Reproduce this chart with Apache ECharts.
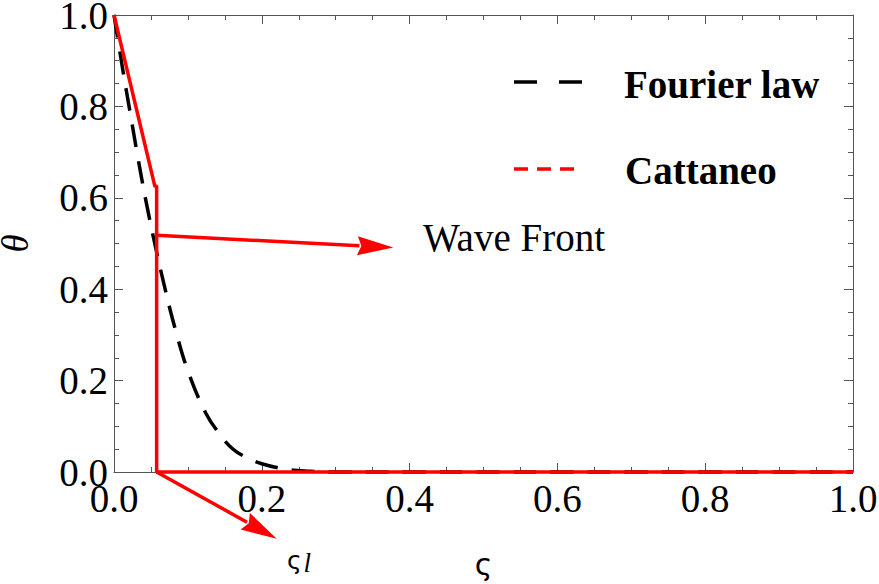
<!DOCTYPE html>
<html>
<head>
<meta charset="utf-8">
<script src="https://cdn.jsdelivr.net/npm/echarts@6/dist/echarts.min.js"></script>
<style>
  html, body { margin: 0; padding: 0; background: #fff; }
  #chart { width: 879px; height: 584px; }
</style>
</head>
<body>
<div id="chart"></div>
<script>
// ---- data ----
const fourierX = [0, 0.0115, 0.0217, 0.032, 0.043, 0.0545, 0.0683, 0.083, 0.1007, 0.1245, 0.142, 0.1604, 0.18, 0.2, 0.229, 0.26, 0.3, 0.4, 0.5, 0.6, 0.7, 0.8, 0.9, 1.0];
const fourierTheta = [1, 0.884, 0.788, 0.691, 0.595, 0.505, 0.406, 0.312, 0.218, 0.128, 0.085, 0.051, 0.031, 0.018, 0.007, 0.002, 0, 0, 0, 0, 0, 0, 0, 0];
const cattaneoX = [0, 0.0555, 0.0577, 0.0577, 1.0];
const cattaneoTheta = [1, 0.624, 0.627, 0, 0];
const xTicks = [0, 0.2, 0.4, 0.6, 0.8, 1.0];
const yTicks = [0, 0.2, 0.4, 0.6, 0.8, 1.0];
const seriesNames = ['Fourier law', 'Cattaneo'];
// annotations (data coordinates)
const waveFrontArrow = [[0.0577, 0.518], [0.378, 0.491]];
const waveFrontLabel = { text: 'Wave Front', at: [0.418, 0.513] };
const frontArrow = [[0.0577, 0], [0.2202, -0.146]];
const frontLabel = { at: [0.234, -0.193] };

const chart = echarts.init(document.getElementById('chart'), null, { renderer: 'svg' });
const serif = 'Liberation Serif, Times New Roman, serif';
const axisColor = '#555';

function pair(xs, ys) { return xs.map((x, i) => [x, ys[i]]); }

function xAxisCfg(pos, labels) {
  return {
    type: 'value', position: pos, min: xTicks[0], max: xTicks[xTicks.length - 1],
    interval: xTicks[1] - xTicks[0],
    axisLine: { show: true, onZero: false, lineStyle: { color: axisColor, width: 1 } },
    axisTick: { show: true, inside: true, length: 9, lineStyle: { color: axisColor, width: 1 } },
    minorTick: { show: true, splitNumber: 4, length: 5, lineStyle: { color: axisColor, width: 1 } },
    splitLine: { show: false }, minorSplitLine: { show: false },
    axisLabel: labels ? { show: true, margin: 7, color: '#000', fontFamily: serif, fontSize: 39,
      formatter: v => v.toFixed(1) } : { show: false }
  };
}
function yAxisCfg(pos, labels) {
  return {
    type: 'value', position: pos, min: yTicks[0], max: yTicks[yTicks.length - 1],
    interval: yTicks[1] - yTicks[0],
    axisLine: { show: true, onZero: false, lineStyle: { color: axisColor, width: 1 } },
    axisTick: { show: true, inside: true, length: 9, lineStyle: { color: axisColor, width: 1 } },
    minorTick: { show: true, splitNumber: 4, length: 5, lineStyle: { color: axisColor, width: 1 } },
    splitLine: { show: false }, minorSplitLine: { show: false },
    axisLabel: labels ? { show: true, margin: 6, color: '#000', fontFamily: serif, fontSize: 39,
      formatter: v => v.toFixed(1) } : { show: false }
  };
}

const xBottom = xAxisCfg('bottom', true);
xBottom.name = 'ς';
xBottom.nameLocation = 'middle';
xBottom.nameGap = 77;
xBottom.nameTextStyle = { fontFamily: 'DejaVu Sans', fontSize: 30, color: '#000' };
const yLeft = yAxisCfg('left', true);
yLeft.name = 'θ';
yLeft.nameLocation = 'middle';
yLeft.nameGap = 80;
yLeft.nameRotate = 90;
yLeft.nameTextStyle = { fontFamily: serif, fontStyle: 'italic', fontSize: 37, color: '#000' };

chart.setOption({
  animation: false,
  backgroundColor: '#fff',
  grid: { left: 114, right: 26, top: 15, bottom: 112, containLabel: false, outerBoundsMode: 'none' },
  xAxis: [xBottom, xAxisCfg('top', false)],
  yAxis: [yLeft, yAxisCfg('right', false)],
  series: [
    {
      name: seriesNames[0], type: 'line', xAxisIndex: 0, yAxisIndex: 0,
      data: pair(fourierX, fourierTheta), showSymbol: false, symbol: 'none',
      smooth: 0.4, clip: false,
      lineStyle: { color: '#000', width: 3.5, type: [23, 14] }, z: 2
    },
    {
      name: seriesNames[1], type: 'line', xAxisIndex: 0, yAxisIndex: 0,
      data: pair(cattaneoX, cattaneoTheta), showSymbol: false, symbol: 'none',
      clip: false,
      lineStyle: { color: '#ff0000', width: 3.5, type: 'solid' }, z: 3
    }
  ]
});

function px(p) { return chart.convertToPixel({ gridIndex: 0 }, p); }
function arrow(a, b, color) {
  const p0 = px(a), p1 = px(b);
  const dx = p1[0] - p0[0], dy = p1[1] - p0[1];
  const L = Math.hypot(dx, dy), ux = dx / L, uy = dy / L;
  const hl = 36, hw = 9.5;
  const bx = p1[0] - ux * hl, by = p1[1] - uy * hl;
  return [
    { type: 'line', shape: { x1: p0[0], y1: p0[1], x2: bx + ux * 2, y2: by + uy * 2 },
      style: { stroke: color, lineWidth: 3.5 }, z: 10 },
    { type: 'polygon', shape: { points: [[p1[0], p1[1]], [bx - uy * hw, by + ux * hw], [bx + ux * 4, by + uy * 4], [bx + uy * hw, by - ux * hw]] },
      style: { fill: color }, z: 10 }
  ];
}

const wfPos = px(waveFrontLabel.at);
const flPos = px(frontLabel.at);
const graphics = [].concat(
  arrow(waveFrontArrow[0], waveFrontArrow[1], '#ff0000'),
  arrow(frontArrow[0], frontArrow[1], '#ff0000'),
  [
    { type: 'text', x: wfPos[0], y: wfPos[1], z: 10,
      style: { text: waveFrontLabel.text, font: '39px ' + serif, fill: '#000', verticalAlign: 'middle' } },
    { type: 'text', x: flPos[0], y: flPos[1], z: 10,
      style: { text: '{s|ς}{l|l}', fill: '#000', verticalAlign: 'middle',
        rich: { s: { fontFamily: 'DejaVu Sans', fontSize: 25, fill: '#000' },
                l: { fontFamily: serif, fontStyle: 'italic', fontSize: 27, fill: '#000', padding: [6, 0, 0, 2] } } } },
    // legend
    { type: 'line', shape: { x1: 514, y1: 82, x2: 582, y2: 82 },
      style: { stroke: '#000', lineWidth: 3.5, lineDash: [23, 22] }, z: 10 },
    { type: 'text', x: 624, y: 84, z: 10,
      style: { text: seriesNames[0], font: 'bold 39px ' + serif, fill: '#000', verticalAlign: 'middle' } },
    { type: 'line', shape: { x1: 514, y1: 169, x2: 574, y2: 169 },
      style: { stroke: '#ff0000', lineWidth: 3.5, lineDash: [14, 9] }, z: 10 },
    { type: 'text', x: 625, y: 170, z: 10,
      style: { text: seriesNames[1], font: 'bold 39px ' + serif, fill: '#000', verticalAlign: 'middle' } }
  ]
);
chart.setOption({ graphic: graphics });
</script>
</body>
</html>
